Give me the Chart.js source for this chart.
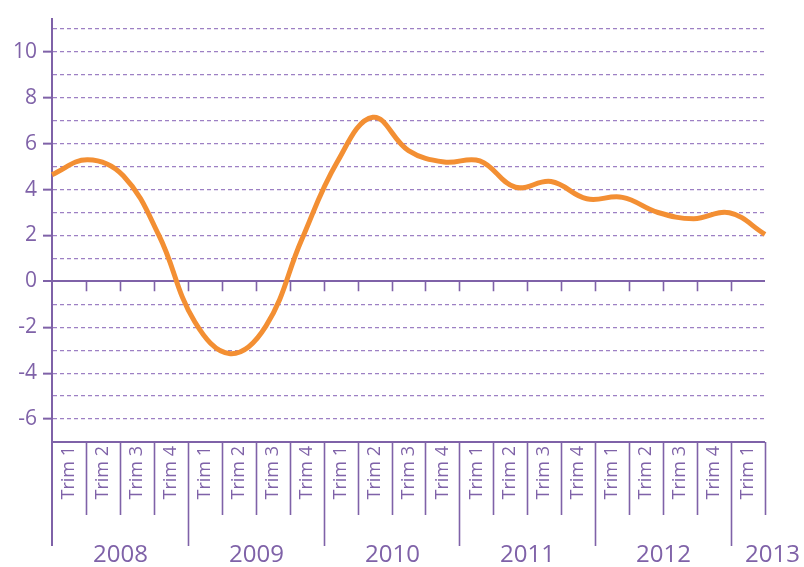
<!DOCTYPE html>
<html>
<head>
<meta charset="utf-8">
<script src="https://cdn.jsdelivr.net/npm/chart.js@4.4.1/dist/chart.umd.min.js"></script>
<style>
  html, body { margin: 0; padding: 0; background: #fff; }
  #wrap { width: 804px; height: 567px; }
</style>
</head>
<body>
<div id="wrap"><canvas id="chart" width="804" height="567"></canvas></div>
<script>
// données
const years = ['2008', '2009', '2010', '2011', '2012', '2013'];
const quarters = ['Trim 1', 'Trim 2', 'Trim 3', 'Trim 4'];
const growth = [4.65, 5.3, 4.6, 2.0, -1.75, -3.15, -1.95, 1.8, 5.2, 7.15, 5.7, 5.2,
                5.25, 4.1, 4.35, 3.6, 3.66, 3.0, 2.73, 2.99, 2.05];
const yLabels = [-6, -4, -2, 0, 2, 4, 6, 8, 10];

const labels = [];
years.forEach(y => quarters.forEach(q => labels.push(q)));
labels.length = growth.length;

const purple = '#7f62a8';
const lightPurple = '#9d80c4';
const orange = '#f38f33';
const family = '"Open Sans", "Noto Sans", sans-serif';

// séparateurs sous l'axe + années
const axisExtras = {
  id: 'axisExtras',
  afterDraw(chart) {
    const { ctx, chartArea: a } = chart;
    const x = chart.scales.x, y = chart.scales.y;
    const n = labels.length;
    const w = x.getPixelForValue(1) - x.getPixelForValue(0);
    const edge = k => Math.round(x.getPixelForValue(k) - w / 2) + 0.5;
    const y0 = y.getPixelForValue(0);
    ctx.save();
    ctx.strokeStyle = purple;
    ctx.lineWidth = 1.6;
    ctx.beginPath();
    for (let k = 1; k < n; k++) {
      ctx.moveTo(edge(k), y0);
      ctx.lineTo(edge(k), y0 + 10);
    }
    for (let k = 1; k <= n; k++) {
      const long = k % 4 === 0 && k < n;
      ctx.moveTo(edge(k), a.bottom);
      ctx.lineTo(edge(k), a.bottom + (long ? 104 : 73));
    }
    ctx.stroke();
    ctx.lineWidth = 2;
    ctx.beginPath();
    ctx.moveTo(a.left, a.bottom);
    ctx.lineTo(a.left, a.bottom + 104);
    ctx.stroke();

    ctx.fillStyle = purple;
    ctx.font = '24px ' + family;
    ctx.textAlign = 'center';
    ctx.textBaseline = 'middle';
    years.forEach((yr, j) => {
      const tw = ctx.measureText(yr).width;
      let cx = edge(j * 4) + 2 * w;
      cx = Math.min(cx, chart.width - tw / 2 - 4);
      ctx.fillText(yr, cx, a.bottom + 113);
    });
    ctx.restore();
  }
};

new Chart(document.getElementById('chart'), {
  type: 'line',
  data: {
    labels: labels,
    datasets: [{
      data: growth,
      xAxisID: 'xl',
      borderColor: orange,
      borderWidth: 5,
      pointRadius: 0,
      tension: 0.4,
      fill: false
    }]
  },
  options: {
    responsive: false,
    animation: false,
    layout: { padding: { top: 16, right: 39, bottom: 0, left: 0 } },
    plugins: { legend: { display: false }, tooltip: { enabled: false } },
    scales: {
      x: {
        type: 'category',
        offset: true,
        afterFit(s) { s.height = 125; },
        grid: { display: false, drawTicks: false },
        border: { display: false },
        ticks: {
          autoSkip: false,
          minRotation: 90,
          maxRotation: 90,
          padding: 4,
          color: purple,
          font: { family: family, size: 18 }
        }
      },
      xl: {
        type: 'category',
        display: false,
        offset: false
      },
      y: {
        min: -7,
        max: 11.45,
        afterBuildTicks(s) {
          const t = [];
          for (let v = s.min; v <= 11; v++) t.push({ value: v });
          s.ticks = t;
        },
        afterFit(s) { s.width = 52; },
        ticks: {
          autoSkip: false,
          padding: 6,
          color: purple,
          font: { family: family, size: 21 },
          callback: v => yLabels.includes(v) ? String(v) : ''
        },
        grid: {
          tickLength: 9,
          tickWidth: 2,
          tickColor: c => (c.tick && yLabels.includes(c.tick.value)) ? purple : 'rgba(0,0,0,0)',
          color: c => (c.tick && (c.tick.value === 0 || c.tick.value === -7)) ? purple : lightPurple,
          lineWidth: c => (c.tick && (c.tick.value === 0 || c.tick.value === -7)) ? 2 : 1.3
        },
        border: {
          display: true,
          color: purple,
          width: 2,
          dash: c => (!c.tick || c.tick.value === 0 || c.tick.value === -7) ? [] : [4, 3]
        }
      }
    }
  },
  plugins: [axisExtras]
});
</script>
</body>
</html>
